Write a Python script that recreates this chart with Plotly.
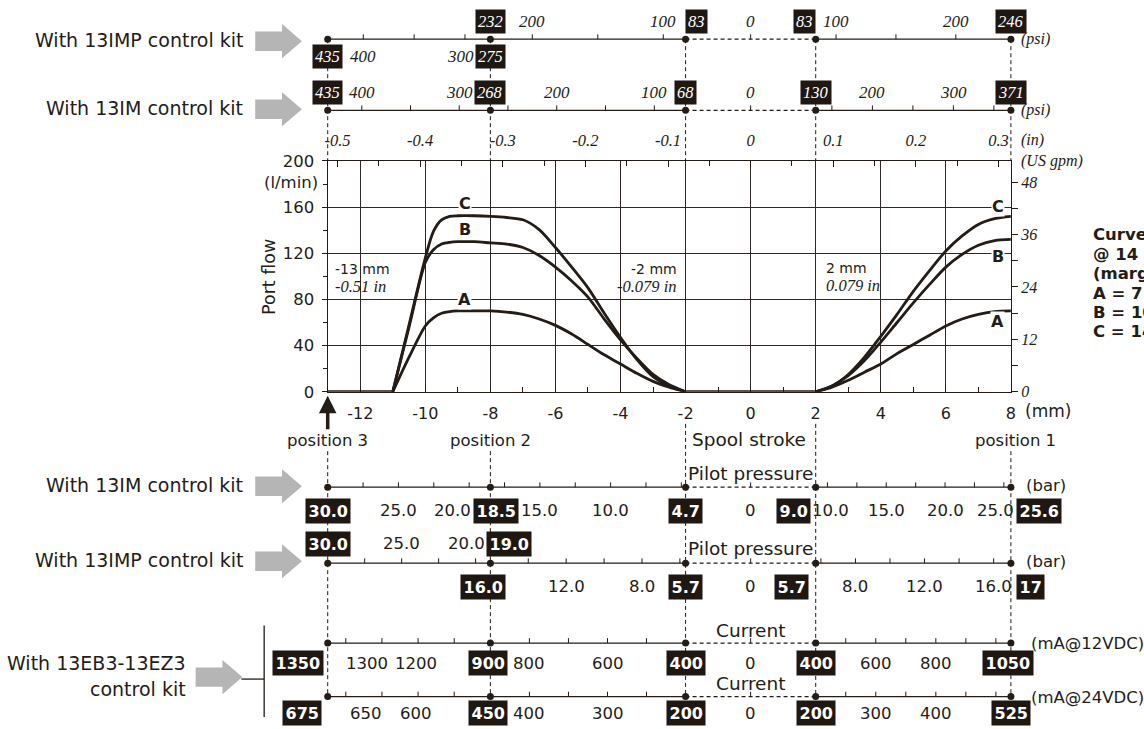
import numpy as np
import plotly.graph_objects as go

# ---------------- data ----------------
# port flow curves (l/min) against spool stroke (mm)
STROKE_LEFT = [-11, -10.5, -10, -9.75, -9.5, -9.25, -9, -8.5, -8, -7.5, -7, -6.5, -6,
               -5.5, -5, -4.5, -4, -3.5, -3, -2.5, -2]
STROKE_RIGHT = [2, 2.5, 3, 3.5, 4, 4.5, 5, 5.5, 6, 6.5, 7, 7.5, 8]
FLOW_A_LEFT = [0, 30, 57, 64, 68, 69.5, 70, 70, 70, 69, 67, 63, 57.5, 50, 41, 32, 24, 16, 9, 4, 0]
FLOW_B_LEFT = [0, 56, 112, 123, 128, 129.5, 130, 130, 129, 128, 125, 118, 108, 96, 82, 63, 45, 29, 15, 6, 0]
FLOW_C_LEFT = [0, 58, 116, 139, 149, 152, 152.5, 152.5, 152, 151, 149, 140.5, 125, 108, 90, 68, 47, 28, 13, 5, 0]
FLOW_A_RIGHT = [0, 4, 10, 17, 24, 33, 41, 49, 57, 63, 67, 69.5, 70]
FLOW_B_RIGHT = [0, 5, 14, 27, 43, 60, 77, 93, 108, 119, 127, 131, 132]
FLOW_C_RIGHT = [0, 5, 15, 30, 48, 67, 87, 105, 122, 135, 145, 150, 152]
DEAD_BAND_MM = [-13, -11, -2, 2]          # flow stays 0 on [-13,-11] and [-2,2]
CURVE_NAMES = ["A", "B", "C"]

# auxiliary scales: values at spool positions
POS_MM = [-13, -8, -2, 0, 2, 8]
POS_LEFT_BRANCH = [-13, -8]
POS_MAIN_BRANCH = [-8, -2, 0, 2, 8]
IMP_PSI_LEFT = [435, 275]
IMP_PSI_MAIN = [232, 83, 0, 83, 246]
IM_PSI = [435, 268, 68, 0, 130, 371]
IM_BAR = [30.0, 18.5, 4.7, 0, 9.0, 25.6]
IMP_BAR_LEFT = [30.0, 19.0]
IMP_BAR_MAIN = [16.0, 5.7, 0, 5.7, 17]
MA_12VDC = [1350, 900, 400, 0, 400, 1050]
MA_24VDC = [675, 450, 200, 0, 200, 525]

# tick labels of the auxiliary scales (left of zero / right of zero)
IMP_PSI_LEFT_TL = [400, 300]
IMP_PSI_MAIN_TL = [200, 100]
IMP_PSI_MAIN_TR = [100, 200]
IM_PSI_TL = [400, 300, 200, 100]
IM_PSI_TR = [200, 300]
IM_BAR_TL = [25.0, 20.0, 15.0, 10.0]
IM_BAR_TR = [10.0, 15.0, 20.0, 25.0]
IMP_BAR_LEFT_TL = [25.0, 20.0]
IMP_BAR_MAIN_TL = [12.0, 8.0]
IMP_BAR_MAIN_TR = [8.0, 12.0, 16.0]
MA_12_TL = [1300, 1200, 800, 600]
MA_12_TR = [600, 800]
MA_24_TL = [650, 600, 400, 300]
MA_24_TR = [300, 400]

MM_TICKS = [-12, -10, -8, -6, -4, -2, 0, 2, 4, 6, 8]
FLOW_TICKS = [0, 40, 80, 120, 160, 200]
INCH_TICKS = [-0.5, -0.4, -0.3, -0.2, -0.1, 0, 0.1, 0.2, 0.3]
GPM_TICKS = [0, 12, 24, 36, 48]
LPM_PER_GPM = 3.785411784
MM_PER_INCH = 25.4

# ---------------- layout / style ----------------
W, H = 1144, 729
PL, PR, PT, PB = 327, 1015, 156, 393
X_RANGE = [-13, 8]
Y_RANGE = [0, 200]
INK = "#231c17"
GRID = "#2f2824"
BOX = "#1f1712"
GRAY = "#b5b5b5"
SANS = "DejaVu Sans"
SERIF = "Liberation Serif"
TICK_LEN = 5
DASH = "4px,3px"
KIT_SIZE = 19
CAPTION_SIZE = 18.5

mm_per_px = (X_RANGE[1] - X_RANGE[0]) / (PR - PL)
X2_RANGE = [X_RANGE[0] - PL * mm_per_px, X_RANGE[1] + (W - PR) * mm_per_px]


def px_of(mm):
    return PL + (mm - X_RANGE[0]) / mm_per_px


def fmt(v):
    return f"{v:.1f}" if isinstance(v, float) else str(v)


def text_w(s, size, kind):
    dig = {"sans": 0.636, "bold": 0.70, "serif": 0.5}[kind]
    dot = {"sans": 0.318, "bold": 0.38, "serif": 0.25}[kind]
    return sum((dig if c.isdigit() else dot if c == "." else 0.4) for c in s) * size


fig = go.Figure()

# ---- flow curves ----
for name, yl, yr in zip(CURVE_NAMES, [FLOW_A_LEFT, FLOW_B_LEFT, FLOW_C_LEFT],
                        [FLOW_A_RIGHT, FLOW_B_RIGHT, FLOW_C_RIGHT]):
    fig.add_trace(go.Scatter(
        x=STROKE_LEFT + [None] + STROKE_RIGHT, y=yl + [None] + yr,
        mode="lines", name=name, connectgaps=False, hoverinfo="skip",
        line=dict(color=INK, width=2.8, shape="spline", smoothing=0.8),
        xaxis="x", yaxis="y"))
fig.add_trace(go.Scatter(
    x=DEAD_BAND_MM[:2] + [None] + DEAD_BAND_MM[2:], y=[0, 0, None, 0, 0],
    mode="lines", line=dict(color=INK, width=2.8), hoverinfo="skip", xaxis="x", yaxis="y"))
# dummies so the secondary axes exist
fig.add_trace(go.Scatter(x=[None], y=[None], xaxis="x3", yaxis="y", hoverinfo="skip"))
fig.add_trace(go.Scatter(x=[None], y=[None], xaxis="x", yaxis="y3", hoverinfo="skip"))

shapes, annotations = [], []
tick_x, tick_y, dot_x, dot_y = [], [], [], []


def seg_line(x0, x1, y, dash="solid", width=1.3):
    shapes.append(dict(type="line", xref="x2", yref="y2", x0=x0, x1=x1, y0=y, y1=y,
                       line=dict(color=INK, width=width, dash=dash)))


def vdash(x, y0, y1):
    shapes.append(dict(type="line", xref="x2", yref="y2", x0=x, x1=x, y0=y0, y1=y1,
                       line=dict(color=INK, width=1, dash=DASH)))


def text(x, y, s, size=16, family=SANS, xanchor="center", xref="x2", yref="y2",
         style="normal", weight="normal", color=INK, **kw):
    annotations.append(dict(x=x, y=y, xref=xref, yref=yref, text=s, showarrow=False,
                            xanchor=xanchor, yanchor="middle",
                            font=dict(family=family, size=size, color=color, style=style,
                                      weight=weight), **kw))


def build_row(y, branches, kind, off_above, off_below):
    seg_line(-13, -2, y)
    seg_line(-2, 2, y, dash=DASH)
    seg_line(2, 8, y)
    for m in [-13, -8, -2, 2, 8]:
        dot_x.append(m)
        dot_y.append(y)
    tick_x.extend([0, 0, None])
    tick_y.extend([y, y - TICK_LEN, None])
    if kind == "serif":
        lab_font = dict(family=SERIF, size=17, style="italic", weight="normal")
        box_font = dict(family=SERIF, size=16.5, style="italic", weight="normal")
        lab_kind, box_kind, pad = "serif", "serif", 2
    else:
        lab_font = dict(family=SANS, size=16.5, style="normal", weight="normal")
        box_font = dict(family=SANS, size=16, style="normal", weight="bold")
        lab_kind, box_kind, pad = "sans", "bold", 2.5
    for br in branches:
        pos, vals, side, step = br["pos"], br["vals"], br["side"], br["step"]
        ly = y - off_above if side == "above" else y + off_below
        # minor ticks along the solid segments
        for i in range(len(pos) - 1):
            if pos[i] == 0 or pos[i + 1] == 0:
                continue
            v0, v1 = vals[i], vals[i + 1]
            lo, hi = min(v0, v1), max(v0, v1)
            k = np.floor(lo / step + 1e-9) + 1
            while k * step < hi - 1e-9:
                m = pos[i] + (pos[i + 1] - pos[i]) * (k * step - v0) / (v1 - v0)
                tick_x.extend([m, m, None])
                tick_y.extend([y, y - TICK_LEN, None])
                k += 1
        # value boxes at the spool positions
        boxes = []
        for m, v, spec in zip(pos, vals, br["boxes"]):
            if spec is None:
                continue
            anchor, sh = spec
            s = fmt(v)
            w = text_w(s, box_font["size"], box_kind) + 2 * pad + 2
            cx = px_of(m) + sh + {"center": 0, "left": w / 2, "right": -w / 2}[anchor]
            boxes.append((cx, w))
            annotations.append(dict(x=m, y=ly, xref="x2", yref="y2", text=s, showarrow=False,
                                    xanchor=anchor, yanchor="middle", xshift=sh, bgcolor=BOX,
                                    borderpad=pad,
                                    font=dict(color="white", **box_font)))
        # plain tick labels
        p = np.asarray(pos, float)
        vv = np.asarray(vals, float)
        labels = [(v, "L") for v in br.get("left", [])] + [(v, "R") for v in br.get("right", [])]
        if 0 in pos:
            labels.append((0, "Z"))
        for v, s_ in labels:
            if s_ == "Z":
                m = 0.0
            else:
                sel = p <= 0 if s_ == "L" else p >= 0
                order = np.argsort(vv[sel])
                m = float(np.interp(v, vv[sel][order], p[sel][order]))
            s = fmt(v)
            w = text_w(s, lab_font["size"], lab_kind)
            cx = px_of(m) + br.get("nudge", {}).get(v, 0)
            for bx, bw in boxes:
                need = (w + bw) / 2 + 2
                d = cx - bx
                if abs(d) < need:
                    cx = bx + need * (1 if d >= 0 else -1)
            annotations.append(dict(x=m, y=ly, xref="x2", yref="y2", text=s, showarrow=False,
                                    xanchor="center", yanchor="middle", xshift=cx - px_of(m),
                                    font=dict(color=INK, **lab_font)))


# ---- the auxiliary scales ----
Y_IMP_PSI, Y_IM_PSI, Y_IM_BAR, Y_IMP_BAR, Y_MA12, Y_MA24 = 31, 104, 491, 569, 651, 706
build_row(Y_IMP_PSI, [
    dict(pos=POS_LEFT_BRANCH, vals=IMP_PSI_LEFT, side="below", step=50,
         boxes=[("center", 0), ("center", 0)], left=IMP_PSI_LEFT_TL),
    dict(pos=POS_MAIN_BRANCH, vals=IMP_PSI_MAIN, side="above", step=50,
         boxes=[("center", 0), ("left", -1), None, ("right", 0), ("center", 0)],
         left=IMP_PSI_MAIN_TL, right=IMP_PSI_MAIN_TR),
], "serif", 18, 18)
build_row(Y_IM_PSI, [
    dict(pos=POS_MM, vals=IM_PSI, side="above", step=50,
         boxes=[("center", 0)] * 3 + [None] + [("center", 0)] * 2,
         left=IM_PSI_TL, right=IM_PSI_TR),
], "serif", 18, 18)
build_row(Y_IM_BAR, [
    dict(pos=POS_MM, vals=IM_BAR, side="below", step=2.5,
         boxes=[("center", 0), ("center", 6), ("center", 0), None, ("right", -5), ("left", 5)],
         left=IM_BAR_TL, right=IM_BAR_TR),
], "sans", 20, 24)
build_row(Y_IMP_BAR, [
    dict(pos=POS_LEFT_BRANCH, vals=IMP_BAR_LEFT, side="above", step=2.5,
         boxes=[("center", 0), ("left", -4)], left=IMP_BAR_LEFT_TL),
    dict(pos=POS_MAIN_BRANCH, vals=IMP_BAR_MAIN, side="below", step=2,
         boxes=[("center", -7), ("center", 0), None, ("right", -7), ("left", 5)],
         left=IMP_BAR_MAIN_TL, right=IMP_BAR_MAIN_TR),
], "sans", 20, 24)
build_row(Y_MA12, [
    dict(pos=POS_MM, vals=MA_12VDC, side="below", step=100,
         boxes=[("right", -4), ("center", -2), ("center", 0), None, ("center", 0), ("center", -3)],
         left=MA_12_TL, right=MA_12_TR, nudge={1300: 21, 1200: 34}),
], "sans", 20, 21)
build_row(Y_MA24, [
    dict(pos=POS_MM, vals=MA_24VDC, side="below", step=50,
         boxes=[("right", -6), ("center", -2), ("center", 0), None, ("center", 0), ("center", 0)],
         left=MA_24_TL, right=MA_24_TR, nudge={650: 20, 600: 34}),
], "sans", 20, 17)

fig.add_trace(go.Scatter(x=tick_x, y=tick_y, mode="lines", line=dict(color=INK, width=1),
                         xaxis="x2", yaxis="y2", hoverinfo="skip"))
fig.add_trace(go.Scatter(x=dot_x, y=dot_y, mode="markers", marker=dict(color=INK, size=7),
                         xaxis="x2", yaxis="y2", hoverinfo="skip"))

# dashed position lines
for m in [-13, -8, -2, 2, 8]:
    vdash(m, Y_IMP_PSI, PT)
    vdash(m, 426 if m in (-2, 2) else 454, Y_MA24)

# unit texts
for yy, s in [(Y_IMP_PSI, "(psi)"), (Y_IM_PSI, "(psi)"), (134, "(in)"), (156, "(US gpm)")]:
    text(8, yy, s, size=16, family=SERIF, style="italic", xanchor="left", xshift=8)
text(8, 413, "(mm)", size=17, xanchor="left", xshift=12)
text(8, Y_IM_BAR - 2, "(bar)", size=16.5, xanchor="left", xshift=13)
text(8, Y_IMP_BAR - 2, "(bar)", size=16.5, xanchor="left", xshift=13)
text(8, Y_MA12, "(mA@12VDC)", size=16.5, xanchor="left", xshift=18)
text(8, Y_MA24 + 1, "(mA@24VDC)", size=16.5, xanchor="left", xshift=18)

# row captions
text(0, 442, "Spool stroke", size=CAPTION_SIZE, xshift=-2)
text(0, Y_IM_BAR - 14, "Pilot pressure", size=CAPTION_SIZE)
text(0, Y_IMP_BAR - 15, "Pilot pressure", size=CAPTION_SIZE)
text(0, Y_MA12 - 13, "Current", size=CAPTION_SIZE)
text(0, Y_MA24 - 13, "Current", size=CAPTION_SIZE)
text(-13, 443, "position 3", size=16.5)
text(-8, 443, "position 2", size=16.5)
text(8, 443, "position 1", size=16.5, xshift=5)

# arrow marking position 3
annotations.append(dict(x=-13, y=397, xref="x2", yref="y2", text="", showarrow=True,
                        ax=0, ay=35, arrowhead=2, arrowsize=1, arrowwidth=3.5, arrowcolor=INK))

# texts inside the plot
text(-13, 267, "-13 mm", size=14, xanchor="left", xshift=5)
text(-13, 285, "-0.51 in", size=16.5, family=SERIF, style="italic", xanchor="left", xshift=5)
text(-2, 267, "-2 mm", size=14, xanchor="right", xshift=-7)
text(-2, 285, "-0.079 in", size=16.5, family=SERIF, style="italic", xanchor="right", xshift=-7)
text(2, 266, "2 mm", size=14, xanchor="left", xshift=8)
text(2, 284, "0.079 in", size=16.5, family=SERIF, style="italic", xanchor="left", xshift=8)

for name, (lx, ly), (rx, ry) in zip(CURVE_NAMES, [(-8.79, 80), (-8.79, 141), (-8.79, 163)],
                                    [(7.6, 61), (7.6, 117.5), (7.6, 160.7)]):
    for xx, yy in [(lx, ly), (rx, ry)]:
        annotations.append(dict(x=xx, y=yy, xref="x", yref="y", text=name, showarrow=False,
                                bgcolor="white", borderpad=0,
                                font=dict(family=SANS, size=16, color=INK, weight="bold")))

# axis captions
text(268 / W, 275, "Port flow", size=17.5, xref="paper", textangle=-90)
text(290 / W, 178, "(l/min)", size=16.5, xref="paper")

# right-hand note (cut by the page edge)
for yy, s in zip([232, 252, 272, 292, 312, 331],
                 ["Curves", "@ 14 bar", "(margin)", "A = 7 bar", "B = 10 bar", "C = 14 bar"]):
    text(1096 / W, yy, s, size=16.5, xref="paper", xanchor="left", weight="bold")

# left-hand kit captions with grey arrows


def block_arrow(x0, yc, L=47, sh=20, hh=35, hl=20):
    pts = [(x0, yc - sh / 2), (x0 + L - hl, yc - sh / 2), (x0 + L - hl, yc - hh / 2), (x0 + L, yc),
           (x0 + L - hl, yc + hh / 2), (x0 + L - hl, yc + sh / 2), (x0, yc + sh / 2)]
    path = "M " + " L ".join(f"{px / W:.5f},{py}" for px, py in pts) + " Z"
    shapes.append(dict(type="path", xref="paper", yref="y2", path=path, fillcolor=GRAY,
                       line=dict(width=0)))


for yy, s in [(Y_IMP_PSI + 1, "With 13IMP control kit"), (Y_IM_PSI - 2, "With 13IM control kit"),
              (Y_IM_BAR - 2, "With 13IM control kit"), (Y_IMP_BAR - 3, "With 13IMP control kit")]:
    text(244 / W, yy, s, size=KIT_SIZE, xref="paper", xanchor="right")
    block_arrow(254, yy + 1)
text(186 / W, 671, "With 13EB3-13EZ3", size=KIT_SIZE, xref="paper", xanchor="right")
text(186 / W, 698, "control kit", size=KIT_SIZE, xref="paper", xanchor="right")
block_arrow(194, 686)
shapes.append(dict(type="line", xref="paper", yref="y2", x0=240 / W, x1=263 / W, y0=688, y1=688,
                   line=dict(color=INK, width=1.3)))
shapes.append(dict(type="line", xref="paper", yref="y2", x0=263 / W, x1=263 / W, y0=633, y1=727,
                   line=dict(color=INK, width=1.3)))

inch_minor = [round(v, 3) for v in np.arange(-0.5, 0.3001, 0.05)]
gpm_minor = [6, 18, 30, 42]

fig.update_layout(
    width=W, height=H, margin=dict(l=0, r=0, t=0, b=0), paper_bgcolor="white",
    plot_bgcolor="rgba(0,0,0,0)", showlegend=False,
    xaxis=dict(domain=[PL / W, PR / W], range=X_RANGE, anchor="y", tickmode="array",
               tickvals=MM_TICKS, ticktext=[str(v) for v in MM_TICKS],
               ticks="inside", ticklen=4, tickcolor=INK, showgrid=True,
               gridcolor=GRID, gridwidth=1, showline=True, linecolor=INK, linewidth=1.3,
               mirror=True, zeroline=False, ticklabelstandoff=7,
               tickfont=dict(family=SANS, size=16, color=INK),
               minor=dict(ticks="inside", ticklen=5, tickvals=list(range(-13, 9)),
                          tickcolor=INK, showgrid=False)),
    yaxis=dict(domain=[1 - PB / H, 1 - PT / H], range=Y_RANGE, anchor="x", tickmode="array",
               tickvals=FLOW_TICKS, ticks="outside", ticklen=5, tickcolor=INK, showgrid=True,
               gridcolor=GRID, gridwidth=1, showline=True, linecolor=INK, linewidth=1.3,
               mirror=True, zeroline=False, ticklabelstandoff=4,
               tickfont=dict(family=SANS, size=16.5, color=INK),
               minor=dict(ticks="outside", ticklen=4, tickvals=list(range(0, 201, 20)),
                          tickcolor=INK, showgrid=False)),
    xaxis3=dict(overlaying="x", side="top", anchor="y",
                range=[X_RANGE[0] / MM_PER_INCH, X_RANGE[1] / MM_PER_INCH],
                tickmode="array", tickvals=INCH_TICKS, ticktext=[f"{v:g}" for v in INCH_TICKS],
                ticks="inside", ticklen=6, tickcolor=INK, showgrid=False, showline=False,
                zeroline=False, ticklabelstandoff=11,
                tickfont=dict(family=SERIF, size=16.5, color=INK, style="italic"),
                minor=dict(ticks="inside", ticklen=5, tickvals=inch_minor, tickcolor=INK,
                           showgrid=False)),
    yaxis3=dict(overlaying="y", side="right", anchor="x",
                range=[Y_RANGE[0] / LPM_PER_GPM, Y_RANGE[1] / LPM_PER_GPM],
                tickmode="array", tickvals=GPM_TICKS, ticks="outside", ticklen=6,
                tickcolor=INK, showgrid=False, showline=True, linecolor=INK, linewidth=1.3,
                zeroline=False, tickfont=dict(family=SERIF, size=16, color=INK, style="italic"),
                minor=dict(ticks="outside", ticklen=6, tickvals=gpm_minor, tickcolor=INK,
                           showgrid=False)),
    xaxis2=dict(domain=[0, 1], range=X2_RANGE, anchor="y2", visible=False, fixedrange=True),
    yaxis2=dict(domain=[0, 1], range=[H, 0], anchor="x2", visible=False, fixedrange=True),
    shapes=shapes, annotations=annotations,
)

fig.write_html("out.html", config={"displayModeBar": False},
               post_script="document.body.style.margin='0';document.body.style.overflow='hidden';")
